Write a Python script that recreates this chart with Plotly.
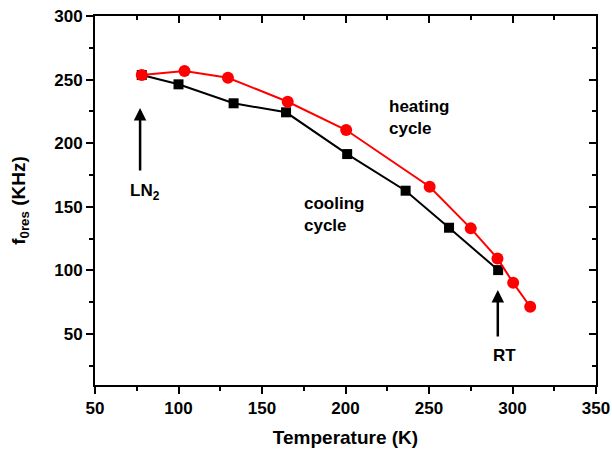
import plotly.graph_objects as go

# Heating cycle (red circles)
heat_T = [78, 103.6, 129.6, 165.4, 200.4, 250.4, 275, 291, 300.4, 310.6]
heat_f = [253.6, 256.8, 251.5, 232.6, 210.4, 165.8, 133.1, 109.5, 90.3, 71.5]
# Cooling cycle (black squares)
cool_T = [78, 100, 133, 164.4, 201, 236, 262, 291.4]
cool_f = [253.6, 246.3, 231.4, 224.3, 191.5, 162.7, 133.6, 100.3]

x_ticks = [50, 100, 150, 200, 250, 300, 350]
y_ticks = [50, 100, 150, 200, 250, 300]

FONT = "Liberation Sans"

fig = go.Figure()
fig.add_trace(go.Scatter(x=cool_T, y=cool_f, mode="lines+markers",
                         line=dict(color="black", width=2),
                         marker=dict(symbol="square", size=10, color="black"),
                         showlegend=False))
fig.add_trace(go.Scatter(x=heat_T, y=heat_f, mode="lines+markers",
                         line=dict(color="#ff0000", width=2),
                         marker=dict(symbol="circle", size=12, color="#ff0000"),
                         showlegend=False))
fig.add_trace(go.Scatter(x=[None], y=[None], xaxis="x2", yaxis="y2", showlegend=False))

axis_common = dict(showgrid=False, zeroline=False, showline=True, linecolor="black",
                   linewidth=2, ticklen=7, tickwidth=2, tickcolor="black", automargin=False)

fig.update_layout(
    width=612, height=451,
    margin=dict(l=95, r=16, t=16, b=66),
    plot_bgcolor="white", paper_bgcolor="white",
    font=dict(family=FONT, color="black"),
    xaxis=dict(range=[50, 350], tickvals=x_ticks, ticktext=[f"<b>{v}</b>" for v in x_ticks],
               ticks="outside", tickfont=dict(size=17, family=FONT), ticklabeloverflow="allow",
               mirror=True,
               minor=dict(dtick=25, tick0=25, ticks="outside", ticklen=4, tickwidth=2, tickcolor="black"),
               title=dict(text="<b>Temperature (K)</b>", font=dict(size=19), standoff=13),
               **axis_common),
    yaxis=dict(range=[10, 300], tickvals=y_ticks, ticktext=[f"<b>{v}</b>" for v in y_ticks],
               ticks="outside", tickfont=dict(size=17, family=FONT), ticklabeloverflow="allow",
               mirror=True,
               minor=dict(dtick=25, tick0=25, ticks="outside", ticklen=4, tickwidth=2, tickcolor="black"),
               title=dict(text="<b>f<sub>0res</sub> (KHz)</b>", font=dict(size=19), standoff=24),
               **axis_common),
    xaxis2=dict(range=[50, 350], overlaying="x", side="top", anchor="y", tickvals=x_ticks, ticks="inside",
                showticklabels=False,
                minor=dict(dtick=25, tick0=25, ticks="inside", ticklen=4, tickwidth=2, tickcolor="black"),
                **axis_common),
    yaxis2=dict(range=[10, 300], overlaying="y", side="right", anchor="x", tickvals=y_ticks, ticks="inside",
                showticklabels=False,
                minor=dict(dtick=25, tick0=25, ticks="inside", ticklen=4, tickwidth=2, tickcolor="black"),
                **axis_common),
)

ann_font = dict(size=17, family=FONT, color="black")
fig.add_annotation(x=225, y=220.6, text="<b>heating<br>cycle</b>", showarrow=False,
                   xanchor="left", align="left", font=ann_font)
fig.add_annotation(x=174, y=144.3, text="<b>cooling<br>cycle</b>", showarrow=False,
                   xanchor="left", align="left", font=ann_font)
fig.add_annotation(x=80, y=161.6, text="<b>LN<sub>2</sub></b>", showarrow=False, font=ann_font)
fig.add_annotation(x=295, y=33.5, text="<b>RT</b>", showarrow=False, font=ann_font)
# arrows
fig.add_annotation(x=77, y=227.7, ax=0, ay=64, text="", showarrow=True,
                   arrowhead=2, arrowsize=1, arrowwidth=2.5, arrowcolor="black")
fig.add_annotation(x=291.2, y=84.6, ax=0, ay=48, text="", showarrow=True,
                   arrowhead=2, arrowsize=1, arrowwidth=2.5, arrowcolor="black")

fig.write_html("out.html", config={"displayModeBar": False},
               post_script="document.body.style.margin='0';document.body.style.overflow='hidden';")
